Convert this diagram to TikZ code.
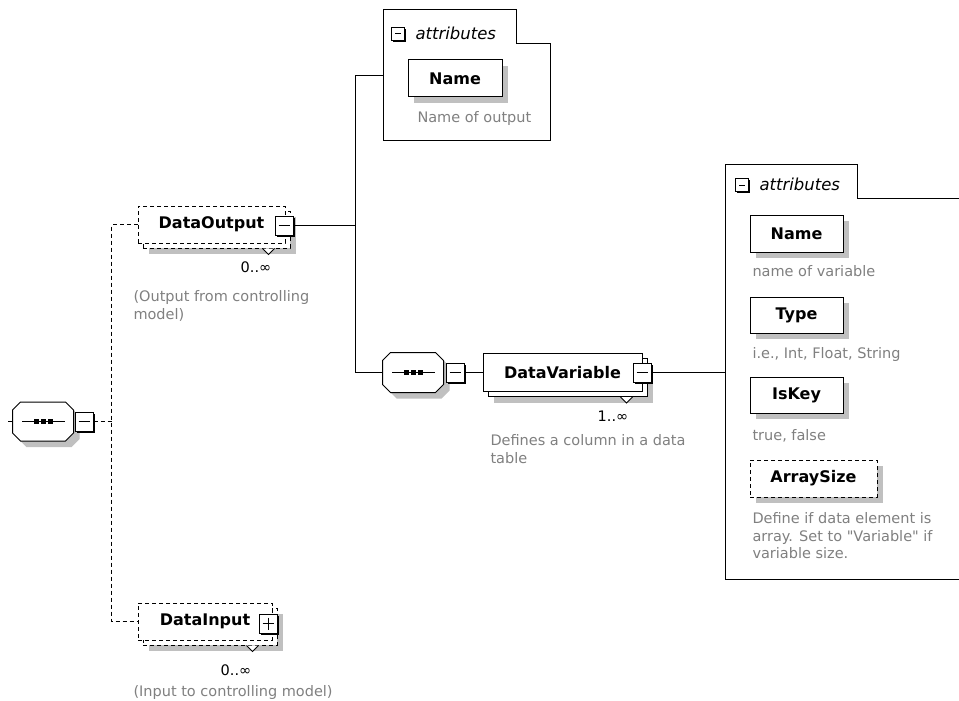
\documentclass[tikz,border=0pt]{standalone}
\usepackage{fontspec}
\setmainfont{DejaVu Sans}
\usetikzlibrary{shadows,calc}
\definecolor{shgray}{RGB}{192,192,192}
\definecolor{notegray}{RGB}{128,128,128}
\newcommand\elname{\fontsize{16}{19}\selectfont\bfseries}
\newcommand\elnote{\fontsize{14.5}{17.5}\selectfont}
\newcommand\attrfont{\fontsize{16.5}{19}\selectfont\itshape}
\newcommand\multfont{\fontsize{14.5}{17}\selectfont}
% octagonal outline of a sequence compositor around a (hidden) node
\newcommand\octagon[2]{%
  \draw[#1] ($(#2.north west)+(8,0)$) -- ($(#2.north east)+(-8,0)$)
    -- ($(#2.north east)+(0,8)$) -- ($(#2.south east)+(0,-8)$)
    -- ($(#2.south east)+(-8,0)$) -- ($(#2.south west)+(8,0)$)
    -- ($(#2.south west)+(0,-8)$) -- ($(#2.north west)+(0,8)$) -- cycle;}
% line with three dots inside a sequence compositor
\newcommand\seqdots[1]{%
  \draw ($(#1.center)+(-21,0)$) -- ($(#1.center)+(22,0)$);
  \foreach \dx in {-7,0,7} {\fill ($(#1.center)+(\dx,0)+(-2.5,-2.5)$) rectangle ++(5,5);}}
% small chevron under a repeated element
\newcommand\repmark[2]{%
  \draw[fill=white, line width=0.8pt] ($(#1.south east)+(#2,5)$) -- ++(6,6) -- ++(6,-6);}
\begin{document}
\begin{tikzpicture}[x=1pt, y=-1pt, line width=1pt,
  seqbox/.style={rectangle, draw=none, inner sep=0pt, minimum width=60pt, minimum height=38pt},
  toggle/.style={draw, fill=white, rectangle, inner sep=0pt, minimum width=18pt, minimum height=19pt,
    general shadow={fill=black, shadow xshift=2pt, shadow yshift=-2pt}},
  attrtoggle/.style={draw, fill=white, rectangle, inner sep=0pt, minimum width=13pt, minimum height=13pt,
    general shadow={fill=black, shadow xshift=1.5pt, shadow yshift=-1.5pt}},
  tgminus/.style={path picture={\draw ([xshift=3.5pt]path picture bounding box.west) -- ([xshift=-3.5pt]path picture bounding box.east);}},
  tgplus/.style={path picture={\draw ([xshift=3.5pt]path picture bounding box.west) -- ([xshift=-3.5pt]path picture bounding box.east);
      \draw ([yshift=-3.5pt]path picture bounding box.north) -- ([yshift=3.5pt]path picture bounding box.south);}},
  elem/.style={draw, fill=white, rectangle, inner sep=0pt, font=\elname,
    general shadow={fill=shgray, shadow xshift=6pt, shadow yshift=-6pt}},
  optelem/.style={elem, dash pattern=on 4pt off 3pt},
  repelem/.style={draw, fill=white, rectangle, inner sep=0pt, font=\elname,
    preaction={fill=shgray, transform canvas={shift={(11pt,-11pt)}}},
    preaction={draw, fill=white, transform canvas={shift={(5pt,-5pt)}}}},
  optrep/.style={draw, fill=white, rectangle, inner sep=0pt, font=\elname, dash pattern=on 4pt off 3pt,
    preaction={fill=shgray, transform canvas={shift={(11pt,-11pt)}}},
    preaction={draw, fill=white, dash pattern=on 4pt off 3pt, transform canvas={shift={(5pt,-5pt)}}}},
  note/.style={anchor=north west, align=left, inner sep=0pt, text=notegray, font=\elnote},
  mult/.style={inner sep=0pt, font=\multfont},
  attrlabel/.style={anchor=west, inner sep=0pt, font=\attrfont},
  optline/.style={dash pattern=on 4pt off 3pt},
  attrgroup/.style={draw, fill=white}]

\fill[white] (0,0) rectangle (959,701);
\useasboundingbox (0,0) rectangle (959,701);

% ---------- root sequence ----------
\node[seqbox] (root) at (43,421.5) {};
\octagon{draw=none, fill=shgray, transform canvas={shift={(6pt,-6pt)}}}{root}
\octagon{fill=white}{root}
\seqdots{root}
\node[toggle, tgminus] (rootm) at (84,421.5) {};
\coordinate (rootin) at (8,421.5);
\draw (rootin) -- (root.west);

% ---------- DataOutput ----------
\node[optrep, minimum width=147pt, minimum height=37pt] (dout) at (211.5,224.5) {DataOutput};
\repmark{dout}{-23}
\node[toggle, tgminus] (doutm) at (284,225.5) {};
\node[mult] (doutmult) at (256,267) {0..∞};
\node[note] (doutnote) at (133,290) {(Output from controlling\\model)};

% ---------- DataInput ----------
\node[optrep, minimum width=134pt, minimum height=37pt] (din) at (205,621.5) {DataInput};
\repmark{din}{-26}
\node[toggle, tgplus] (dinm) at (268,623.5) {};
\node[mult] (dinmult) at (236,670) {0..∞};
\node[note] (dinnote) at (133,685) {(Input to controlling model)};

% ---------- attributes of DataOutput ----------
\draw[attrgroup] (383.5,9.5) -- (516.5,9.5) -- (516.5,43.5) -- (550.5,43.5) -- (550.5,140.5) -- (383.5,140.5) -- cycle;
\node[attrtoggle, tgminus] (attrAt) at (398,34) {};
\node[attrlabel] (attrAl) at (415,33) {attributes};
\node[elem, minimum width=94pt, minimum height=37pt] (outname) at (455,78.5) {Name};
\node[note] (outnamenote) at (417,111) {Name of output};
\coordinate (attrAin) at (383.5,75.5);

% ---------- nested sequence ----------
\node[seqbox, minimum height=39pt] (seq2) at (413,372.5) {};
\octagon{draw=none, fill=shgray, transform canvas={shift={(6pt,-6pt)}}}{seq2}
\octagon{fill=white}{seq2}
\seqdots{seq2}
\node[toggle, tgminus] (seq2m) at (455,372.5) {};

% ---------- DataVariable ----------
\node[repelem, minimum width=159pt, minimum height=38pt] (dvar) at (562.5,372.5) {DataVariable};
\repmark{dvar}{-22}
\node[toggle, tgminus] (dvarm) at (642,372.5) {};
\node[mult] (dvarmult) at (613,416) {1..∞};
\node[note] (dvarnote) at (490,434) {Defines a column in a data\\table};

% ---------- attributes of DataVariable ----------
\draw[attrgroup] (975,198.5) -- (857.5,198.5) -- (857.5,164.5) -- (725.5,164.5) -- (725.5,579.5) -- (975,579.5);
\node[attrtoggle, tgminus] (attrBt) at (742,185) {};
\node[attrlabel] (attrBl) at (759,184) {attributes};
\coordinate (attrBin) at (725.5,372.5);

\node[elem, minimum width=93pt, minimum height=37pt] (vname) at (796.5,233.5) {Name};
\node[note] (vnamenote) at (752,265) {name of variable};
\node[elem, minimum width=93pt, minimum height=36pt] (vtype) at (796.5,315) {Type};
\node[note] (vtypenote) at (752,347) {i.e., Int, Float, String};
\node[elem, minimum width=93pt, minimum height=36pt] (vkey) at (796.5,395) {IsKey};
\node[note] (vkeynote) at (752,429) {true, false};
\node[optelem, minimum width=127pt, minimum height=37pt] (vsize) at (813.5,478.5) {ArraySize};
\node[note] (vsizenote) at (752,512)
  {Define if data element is\\array. Set to \textquotedbl Variable\textquotedbl{} if\\variable size.};

% ---------- connectors ----------
\coordinate (fork0) at (111.5,421.5);
\draw[optline] (rootm.east) -- (fork0);
\draw[optline] (dout.west) -| (fork0) |- (din.west);

\coordinate (fork1) at (355.5,225.5);
\draw (doutm.east) -- (fork1);
\draw (attrAin) -| (fork1) |- (seq2.west);
\draw (seq2m.east) -- (seq2m.east -| dvar.west);
\draw (dvarm.east) -- (attrBin);
\end{tikzpicture}
\end{document}
